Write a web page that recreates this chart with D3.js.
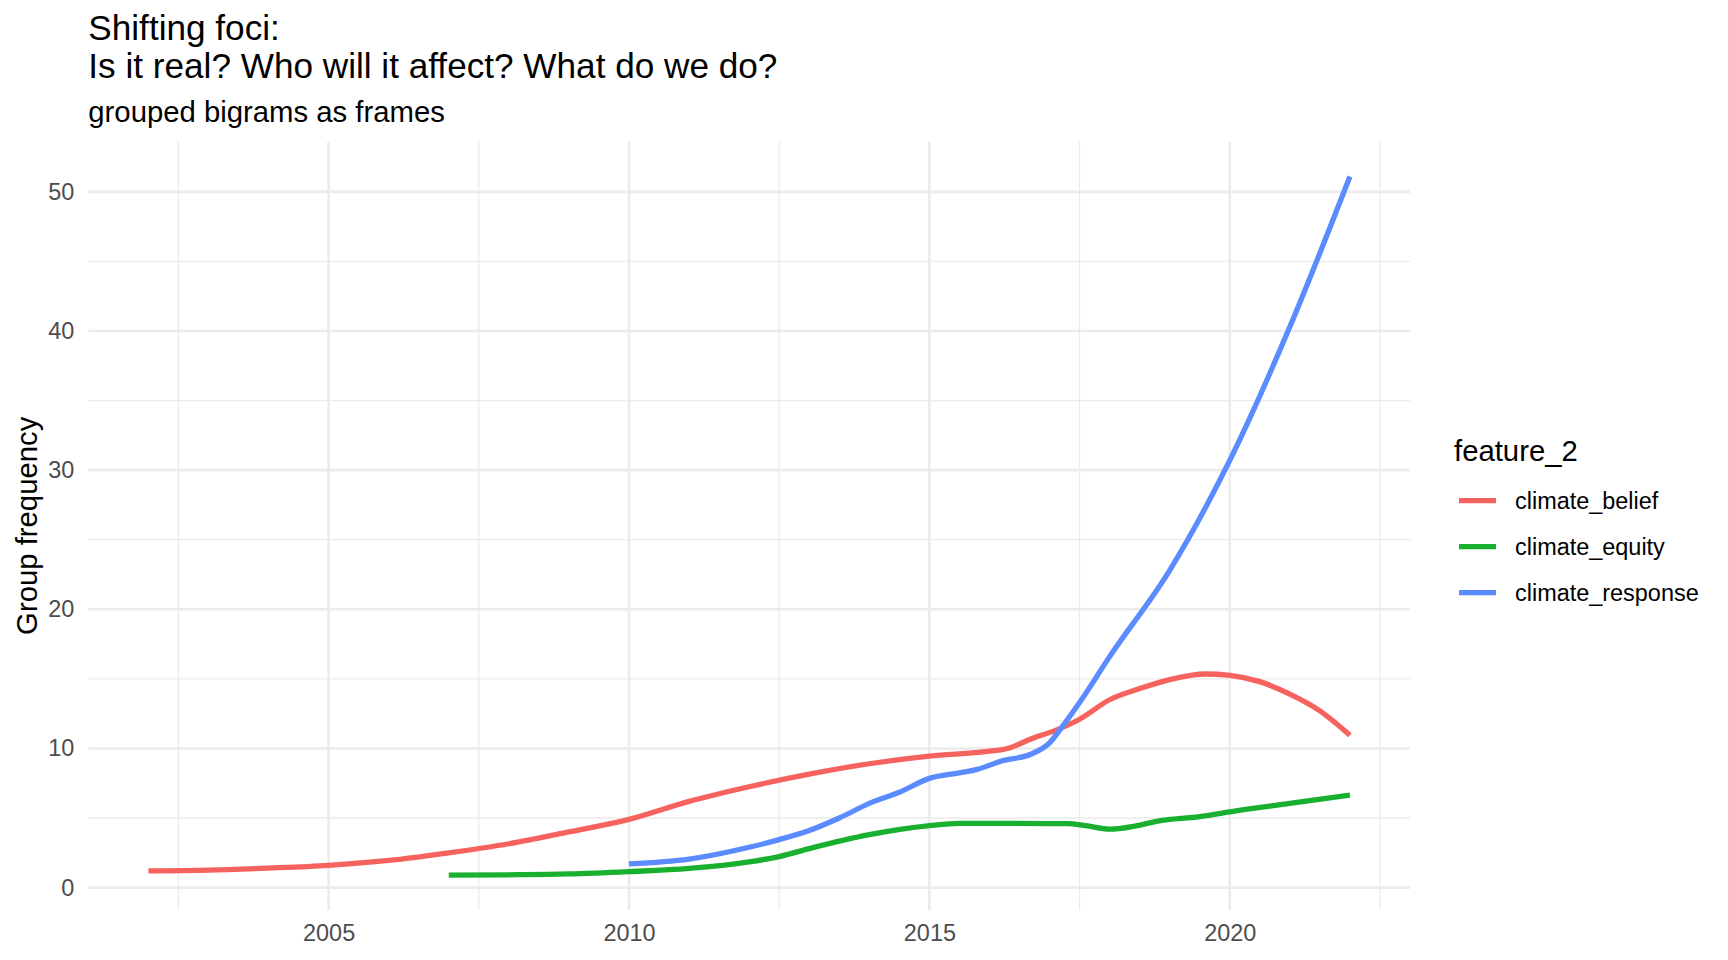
<!DOCTYPE html>
<html>
<head>
<meta charset="utf-8">
<script src="https://cdn.jsdelivr.net/npm/d3@7"></script>
<style>
  body { margin: 0; background: #fff; }
  text { font-family: "Liberation Sans", Arial, sans-serif; }
</style>
</head>
<body>
<svg id="chart" width="1728" height="960"></svg>
<script>
const beliefYears = [2002, 2003, 2004, 2005, 2006, 2007, 2008, 2009, 2010, 2011, 2012, 2013, 2014, 2015, 2016, 2016.3, 2016.7, 2017.1, 2017.5, 2018, 2018.5, 2019, 2019.6, 2020, 2020.5, 2021, 2021.5, 2022];
const beliefValues = [1.2, 1.25, 1.4, 1.6, 1.95, 2.5, 3.15, 4.0, 4.9, 6.2, 7.25, 8.15, 8.9, 9.45, 9.8, 10.0, 10.7, 11.3, 12.1, 13.5, 14.3, 14.95, 15.35, 15.25, 14.8, 13.9, 12.7, 10.95];

const equityYears = [2007, 2008, 2009, 2010, 2011, 2012, 2012.5, 2013, 2014, 2015, 2015.5, 2016, 2017, 2017.3, 2017.6, 2018, 2018.4, 2018.8, 2019.5, 2020, 2021, 2022];
const equityValues = [0.9, 0.92, 0.98, 1.15, 1.38, 1.85, 2.23, 2.8, 3.8, 4.45, 4.62, 4.62, 4.6, 4.6, 4.45, 4.2, 4.4, 4.78, 5.1, 5.45, 6.05, 6.64];

const responseYears = [2010, 2011, 2012, 2012.5, 2013, 2013.5, 2014, 2014.5, 2015, 2015.5, 2015.8, 2016.2, 2016.7, 2017, 2017.2, 2017.5, 2018, 2019, 2020, 2021, 2022];
const responseValues = [1.7, 2.05, 2.9, 3.45, 4.1, 5.0, 6.05, 6.85, 7.85, 8.25, 8.5, 9.1, 9.6, 10.4, 11.5, 13.3, 16.6, 22.8, 30.7, 40.3, 51.1];

const seriesNames = ["climate_belief", "climate_equity", "climate_response"];
const seriesColors = ["#F6635F", "#1AB02F", "#5A8BFF"];

const xMajor = [2005, 2010, 2015, 2020];
const xMinor = [2002.5, 2007.5, 2012.5, 2017.5, 2022.5];
const yMajor = [0, 10, 20, 30, 40, 50];
const yMinor = [5, 15, 25, 35, 45];

const titleLines = ["Shifting foci:", "Is it real? Who will it affect? What do we do?"];
const subtitle = "grouped bigrams as frames";
const yTitle = "Group frequency";
const legendTitle = "feature_2";

const series = [
  { name: seriesNames[0], years: beliefYears, values: beliefValues },
  { name: seriesNames[1], years: equityYears, values: equityValues },
  { name: seriesNames[2], years: responseYears, values: responseValues }
].map(s => ({ name: s.name, points: s.years.map((yr, i) => ({ x: yr, y: s.values[i] })) }));

const base = 29.3;
const panel = { left: 88.3, right: 1410, top: 141.6, bottom: 910 };

const svg = d3.select("#chart");

// ggplot-style 5% expansion
const allX = series.flatMap(s => s.points.map(p => p.x));
const allY = series.flatMap(s => s.points.map(p => p.y));
const [x0, x1] = d3.extent(allX);
const [y0, y1] = d3.extent(allY);
const xPad = (x1 - x0) * 0.05;
const yPad = (y1 - y0) * 0.05;

const x = d3.scaleLinear()
  .domain([x0 - xPad, x1 + xPad])
  .range([panel.left, panel.right]);

const y = d3.scaleLinear()
  .domain([y0 - yPad, y1 + yPad])
  .range([panel.bottom, panel.top]);

const color = d3.scaleOrdinal().domain(seriesNames).range(seriesColors);

// grid
const grid = svg.append("g");
grid.selectAll(".vminor").data(xMinor).enter().append("line")
  .attr("x1", d => x(d)).attr("x2", d => x(d))
  .attr("y1", panel.top).attr("y2", panel.bottom)
  .attr("stroke", "#EBEBEB").attr("stroke-width", 1.3);
grid.selectAll(".hminor").data(yMinor).enter().append("line")
  .attr("x1", panel.left).attr("x2", panel.right)
  .attr("y1", d => y(d)).attr("y2", d => y(d))
  .attr("stroke", "#EBEBEB").attr("stroke-width", 1.3);
grid.selectAll(".vmajor").data(xMajor).enter().append("line")
  .attr("x1", d => x(d)).attr("x2", d => x(d))
  .attr("y1", panel.top).attr("y2", panel.bottom)
  .attr("stroke", "#EBEBEB").attr("stroke-width", 2.6);
grid.selectAll(".hmajor").data(yMajor).enter().append("line")
  .attr("x1", panel.left).attr("x2", panel.right)
  .attr("y1", d => y(d)).attr("y2", d => y(d))
  .attr("stroke", "#EBEBEB").attr("stroke-width", 2.6);

// axes (labels only, like theme_minimal)
const xAxis = svg.append("g")
  .attr("transform", `translate(0, ${panel.bottom})`)
  .call(d3.axisBottom(x).tickValues(xMajor).tickFormat(d3.format("d")).tickSize(0).tickPadding(14));
const yAxis = svg.append("g")
  .attr("transform", `translate(${panel.left}, 0)`)
  .call(d3.axisLeft(y).tickValues(yMajor).tickSize(0).tickPadding(14));
[xAxis, yAxis].forEach(a => {
  a.select(".domain").remove();
  a.selectAll("text")
    .style("font-family", '"Liberation Sans", Arial, sans-serif')
    .style("font-size", (base * 0.8) + "px")
    .attr("fill", "#4D4D4D");
});

// lines
const line = d3.line()
  .x(d => x(d.x))
  .y(d => y(d.y))
  .curve(d3.curveMonotoneX);

svg.append("g").selectAll("path")
  .data(series)
  .enter()
  .append("path")
  .attr("d", d => line(d.points))
  .attr("fill", "none")
  .attr("stroke", d => color(d.name))
  .attr("stroke-width", 5.3)
  .attr("stroke-linecap", "butt");

// y title
svg.append("text")
  .attr("transform", `translate(36.5, ${(panel.top + panel.bottom) / 2}) rotate(-90)`)
  .attr("text-anchor", "middle")
  .style("font-size", base + "px")
  .attr("fill", "#000")
  .text(yTitle);

// titles
svg.append("text")
  .attr("x", panel.left)
  .attr("y", 39.5)
  .style("font-size", (base * 1.2) + "px")
  .selectAll("tspan")
  .data(titleLines)
  .enter()
  .append("tspan")
  .attr("x", panel.left)
  .attr("dy", (d, i) => i === 0 ? 0 : 38.5)
  .text(d => d);

svg.append("text")
  .attr("x", panel.left)
  .attr("y", 121.5)
  .style("font-size", base + "px")
  .text(subtitle);

// legend
const legend = svg.append("g").attr("transform", "translate(1454, 0)");
legend.append("text")
  .attr("x", 0)
  .attr("y", 461)
  .style("font-size", base + "px")
  .text(legendTitle);

const keys = legend.selectAll(".key")
  .data(seriesNames)
  .enter()
  .append("g")
  .attr("transform", (d, i) => `translate(0, ${500.7 + i * 46})`);
keys.append("line")
  .attr("x1", 5).attr("x2", 42)
  .attr("y1", 0).attr("y2", 0)
  .attr("stroke", d => color(d))
  .attr("stroke-width", 5.3);
keys.append("text")
  .attr("x", 61)
  .attr("y", 0)
  .attr("dy", "0.35em")
  .style("font-size", (base * 0.8) + "px")
  .text(d => d);
</script>
</body>
</html>
